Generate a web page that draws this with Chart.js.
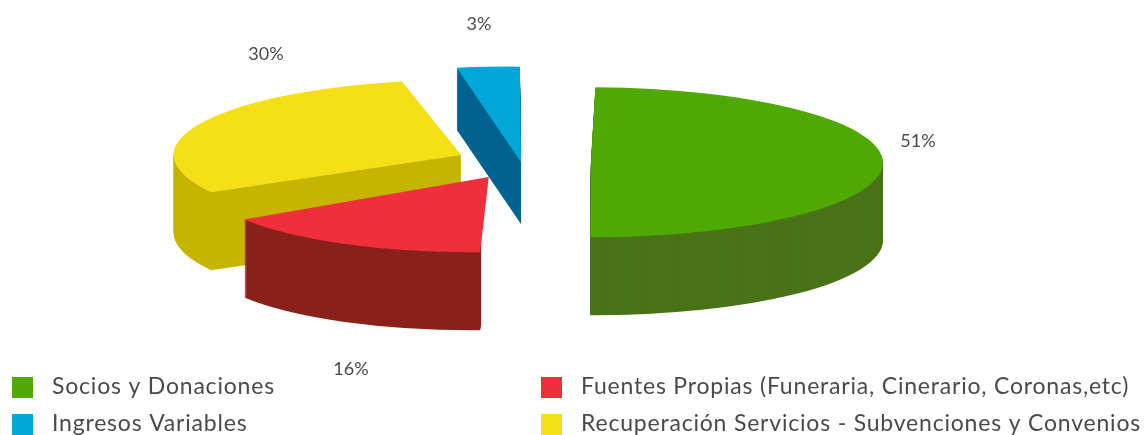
<!DOCTYPE html>
<html>
<head>
<meta charset="utf-8">
<style>
  html, body { margin: 0; padding: 0; background: #fff; }
  canvas { display: block; filter: blur(0.5px); }
</style>
<script src="https://cdn.jsdelivr.net/npm/chart.js@4/dist/chart.umd.min.js"></script>
</head>
<body>
<canvas id="chart" width="1147" height="435"></canvas>
<script>
const categories = ["Socios y Donaciones", "Fuentes Propias (Funeraria, Cinerario, Coronas,etc)", "Recuperación Servicios - Subvenciones y Convenios", "Ingresos Variables"];
const values = [51, 16, 30, 3];
const topColors = ["#4ea900", "#ef2f3c", "#f5e017", "#00a7d8"];
const wallColors = ["#4a7318", "#8a211b", "#c6b500", "#00628f"];

// pie look: where the disc sits, how flat it is, how far slices are pulled out
const centerX = 521;
const centerY = 162;
const radiusX = 292;
const radiusY = 75;
const explode = [168, 124, 123, 0];
const depth = [78, 78, 78, 62];
const sliceScaleX = [1, 0.98, 0.985, 1.155];
const sliceScaleY = [1, 1, 1, 1.27];
const shearX = [0.02, 0.08, 0, -0.05];
const shearY = [0, -0.02, 0, 0.015];
const wallClipRight = [null, 481, null, null];
const drawOrder = [3, 2, 1, 0];

const labelPos = [[918, 141], [351, 369], [266, 54], [479, 24]];
const legendPos = [[12, 387], [541, 387], [541, 424], [12, 424]];

const pie3d = {
  id: "pie3d",
  beforeDatasetsDraw(chart) {
    const ctx = chart.ctx;
    const arcs = chart.getDatasetMeta(0).data;
    drawOrder.forEach((i) => {
      const arc = arcs[i];
      const orig = arc.options;
      // ArcElement grows its radius with the offset, take that back out
      const fix = 1 - Math.sin(Math.min(Math.PI, arc.circumference));
      const grow = arc.outerRadius / (arc.outerRadius + (orig.offset / 4) * fix);
      const kx = (radiusX / arc.outerRadius) * sliceScaleX[i] * grow;
      const ky = (radiusY / arc.outerRadius) * sliceScaleY[i] * grow;
      for (let dy = depth[i]; dy >= 0; dy--) {
        arc.options = Object.assign({}, orig, { backgroundColor: dy === 0 ? topColors[i] : wallColors[i] });
        ctx.save();
        if (dy > 0 && wallClipRight[i] !== null) {
          ctx.beginPath();
          ctx.rect(0, 0, wallClipRight[i], chart.height);
          ctx.clip();
        }
        ctx.translate(centerX, centerY + dy);
        ctx.transform(1, shearY[i], shearX[i], 1, 0, 0);
        ctx.scale(kx, ky);
        ctx.translate(-arc.x, -arc.y);
        arc.draw(ctx);
        ctx.restore();
      }
      arc.options = orig;
    });
    return false;
  },
  afterDraw(chart) {
    const ctx = chart.ctx;
    ctx.save();
    ctx.fillStyle = "#4a4a4a";
    ctx.textBaseline = "middle";
    ctx.textAlign = "center";
    ctx.font = "18px Lato";
    values.forEach((v, i) => ctx.fillText(v + "%", labelPos[i][0], labelPos[i][1]));
    ctx.textAlign = "left";
    ctx.font = "23px Lato";
    ctx.letterSpacing = "0.8px";
    categories.forEach((name, i) => {
      const [x, y] = legendPos[i];
      ctx.fillStyle = topColors[i];
      ctx.fillRect(x, y - 10, 21, 21);
      ctx.fillStyle = "#4a4a4a";
      ctx.fillText(name, x + 40, y);
    });
    ctx.restore();
  }
};

new Chart(document.getElementById("chart"), {
  type: "pie",
  data: {
    labels: categories,
    datasets: [{
      data: values,
      backgroundColor: topColors,
      borderWidth: 0,
      offset: explode
    }]
  },
  options: {
    responsive: false,
    animation: false,
    rotation: -1,
    plugins: { legend: { display: false }, tooltip: { enabled: false } }
  },
  plugins: [pie3d]
});
</script>
</body>
</html>
